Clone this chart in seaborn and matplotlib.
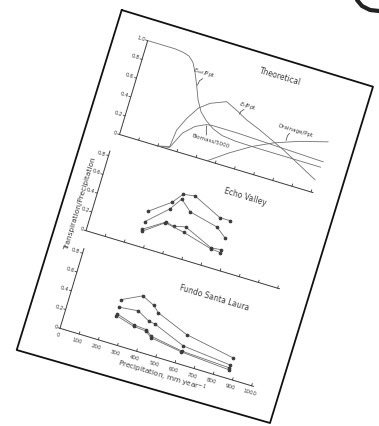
import numpy as np
import pandas as pd
import matplotlib
matplotlib.use("Agg")
import matplotlib.pyplot as plt
import matplotlib.transforms as mtransforms
import seaborn as sns

# ---- data ----
# Theoretical panel (fraction of precipitation vs precipitation, mm/yr)
soil_x = [0, 65, 143, 186, 220, 248, 272, 298, 326, 358, 395, 440, 493, 564, 670, 800, 906, 1010]
soil_y = [1.0, 1.0, 1.0, 0.99, 0.97, 0.92, 0.83, 0.71, 0.57, 0.46, 0.39, 0.33, 0.29, 0.275, 0.27, 0.27, 0.27, 0.27]
trans_x = [200, 258, 267, 299, 340, 389, 466, 526, 588, 666, 807, 1002]
trans_y = [0.0, 0.03, 0.21, 0.355, 0.49, 0.57, 0.635, 0.58, 0.515, 0.455, 0.33, 0.13]
biomass_x = [200, 258, 300, 350, 400, 430, 560, 1015]
biomass_y = [0.0, 0.02, 0.20, 0.30, 0.35, 0.36, 0.36, 0.33]
drain_x = [457, 550, 650, 750, 870, 1010]
drain_y = [0.0, 0.14, 0.27, 0.37, 0.46, 0.54]

# Echo Valley
echo_x = [268, 371, 413, 472, 622, 674]
echo_a = [0.37, 0.53, 0.64, 0.66, 0.52, 0.52]
echo_b = [0.26, 0.46, 0.59, 0.49, 0.42, 0.34]
echo_c = [0.18, 0.32, 0.30, 0.33, 0.20, 0.21]
echo_d_x = [270, 368, 472, 622, 674]
echo_d = [0.16, 0.31, 0.27, 0.19, 0.18]

# Fundo Santa Laura
santa_x = [252, 350, 415, 449, 615, 868]
santa_a = [0.46, 0.56, 0.50, 0.44, 0.31, 0.22]
santa_b = [0.38, 0.40, 0.33, 0.32, 0.19, 0.14]
santa_c = [0.31, 0.25, 0.24, 0.19, 0.135, 0.11]
santa_d = [0.29, 0.235, 0.225, 0.175, 0.125, 0.09]

x_ticks = list(range(0, 1001, 100))

ink = "#3a3a3a"
line_c = "#707070"
angle = -16.7

sns.set_style("white")
fig = plt.figure(figsize=(3.79, 4.26), dpi=100)
ax = fig.add_axes([0, 0, 1, 1])


def panel(ox, oy):
    # data (mm, fraction) -> tilted page position (pixels)
    m = np.array([[0.1916, 28.2, ox], [0.0575, -93.9, oy], [0, 0, 1]])
    return mtransforms.Affine2D(m) + ax.transData


def label(tr, x, y, s, size=4, ha="center"):
    ax.text(x, y, s, transform=tr, rotation=angle, rotation_mode="anchor",
            ha=ha, va="center", fontsize=size, color=ink)


def frame(tr, ytop, yticks, labels=False):
    ax.plot([0, 1010], [0, 0], transform=tr, color=ink, lw=0.7)
    ax.plot([0, 0], [0, ytop], transform=tr, color=ink, lw=0.7)
    for xv in x_ticks[1:]:
        ax.plot([xv, xv], [0, 0.025], transform=tr, color=ink, lw=0.6)
    for yv in yticks:
        ax.plot([-10, 0], [yv, yv], transform=tr, color=ink, lw=0.6)
        label(tr, -14, yv, "0" if yv == 0 else f"{yv:.1f}", ha="right")
    if labels:
        for xv in x_ticks:
            label(tr, xv, -0.075, str(xv))


def series(df, tr, markers=True):
    kw = dict(marker="o", markersize=1.9, markerfacecolor=ink, markeredgecolor=ink) if markers else {}
    sns.lineplot(data=df, x="x", y="y", units="s", estimator=None, sort=False,
                 color=line_c, lw=0.6, legend=False, ax=ax, transform=tr, **kw)


# page border
page_x = [121.7, 373, 270, 16.7, 121.7]
page_y = [10, 86.7, 423, 350, 10]
ax.plot(page_x, page_y, color="#111111", lw=1.3)
ax.plot([357, 362, 370, 379], [0, 6, 10, 11], color="#222222", lw=3)

# --- Theoretical ---
tr1 = panel(119.5, 134.5)
frame(tr1, 1.0, [0, 0.2, 0.4, 0.6, 0.8, 1.0])
theo = pd.DataFrame({
    "x": soil_x + trans_x + biomass_x + drain_x,
    "y": soil_y + trans_y + biomass_y + drain_y,
    "s": ["soil"] * len(soil_x) + ["trans"] * len(trans_x) + ["bio"] * len(biomass_x) + ["drain"] * len(drain_x),
})
series(theo, tr1, markers=False)
label(tr1, 686, 1.03, "Theoretical", size=5.5)
label(tr1, 317, 0.846, r"$E_{soil}$/Ppt")
label(tr1, 572, 0.647, r"$E_t$/Ppt")
label(tr1, 835, 0.552, "Drainage/Ppt")
label(tr1, 446, 0.207, "Biomass/5000")
# small pointer hooks from the curve names to their curves
for px, py in [([318, 306, 302], [0.79, 0.76, 0.71]),
               ([560, 548, 545], [0.61, 0.58, 0.55]),
               ([812, 806, 806], [0.51, 0.48, 0.43]),
               ([418, 410, 404], [0.25, 0.29, 0.34])]:
    ax.plot(px, py, transform=tr1, color=ink, lw=0.5)

# --- Echo Valley ---
tr2 = panel(86, 230.7)
frame(tr2, 0.85, [0, 0.2, 0.4, 0.6, 0.8])
echo = pd.DataFrame({
    "x": echo_x * 3 + echo_d_x,
    "y": echo_a + echo_b + echo_c + echo_d,
    "s": ["a"] * 6 + ["b"] * 6 + ["c"] * 6 + ["d"] * len(echo_d_x),
})
series(echo, tr2)
label(tr2, 713, 0.793, "Echo Valley", size=5.5)

# --- Fundo Santa Laura ---
tr3 = panel(60, 328.3)
frame(tr3, 0.85, [0, 0.2, 0.4, 0.6, 0.8], labels=True)
santa = pd.DataFrame({
    "x": santa_x * 4,
    "y": santa_a + santa_b + santa_c + santa_d,
    "s": ["a"] * 6 + ["b"] * 6 + ["c"] * 6 + ["d"] * 6,
})
series(santa, tr3)
label(tr3, 694, 0.75, "Fundo Santa Laura", size=5.5)

# axis titles
ax.text(80, 204, "Transpiration/Precipitation", rotation=90 + angle, ha="center", va="center",
        fontsize=5.3, color=ink)
ax.text(161.7, 376.7, r"Precipitation, mm year$^{-1}$", rotation=angle, ha="center", va="center",
        fontsize=5.2, color=ink)

ax.set_xlim(0, 379)
ax.set_ylim(426, 0)
ax.axis("off")
fig.savefig("out.png", dpi=100, facecolor="white")
